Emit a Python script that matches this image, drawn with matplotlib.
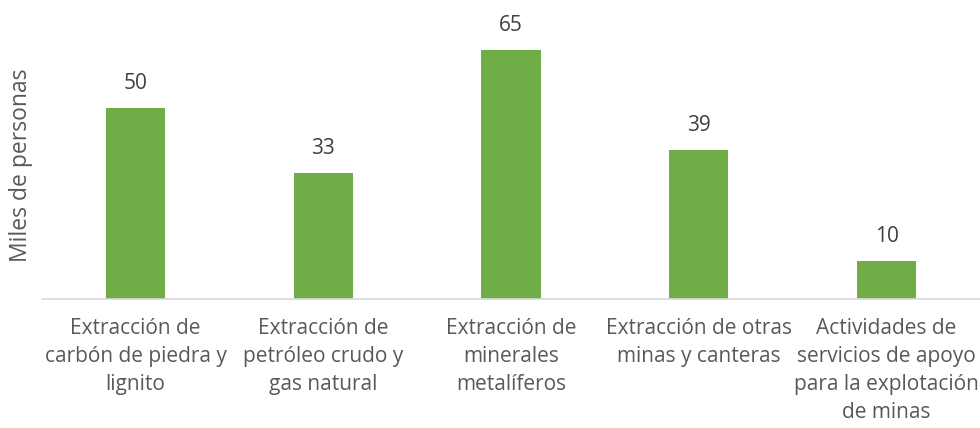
import matplotlib
matplotlib.use("Agg")
import matplotlib.pyplot as plt

categories = [
    "Extracción de\ncarbón de piedra y\nlignito",
    "Extracción de\npetróleo crudo y\ngas natural",
    "Extracción de\nminerales\nmetalíferos",
    "Extracción de otras\nminas y canteras",
    "Actividades de\nservicios de apoyo\npara la explotación\nde minas",
]
values = [50, 33, 65, 39, 10]

plt.rcParams['font.family'] = ['Open Sans', 'DejaVu Sans']
text_color = "#595959"

fig = plt.figure(figsize=(9.8, 4.28), dpi=100)
ax = fig.add_axes([41.6 / 980, 129 / 428, 938.8 / 980, 268 / 428])
x = list(range(len(values)))
bars = ax.bar(x, values, width=0.315, color="#70AD47")
ax.set_xlim(-0.5, 4.5)
ax.set_ylim(0, 70)
for xi, v in zip(x, values):
    ax.annotate(str(v), (xi, v), xytext=(0, 10), textcoords="offset points",
                ha="center", va="bottom", fontsize=15, color="#404040")
ax.set_xticks(x)
ax.set_xticklabels(categories, fontsize=15, color=text_color, linespacing=1.42)
for lbl in ax.get_xticklabels():
    lbl.set_multialignment("center")
ax.tick_params(axis="x", length=0, pad=14)
ax.set_yticks([])
for s in ["top", "right", "left"]:
    ax.spines[s].set_visible(False)
ax.spines["bottom"].set_color("#D9D9D9")
ax.spines["bottom"].set_linewidth(1.2)
ax.set_ylabel("Miles de personas", fontsize=16.5, color=text_color, labelpad=6)

fig.savefig("out.png", dpi=100)
